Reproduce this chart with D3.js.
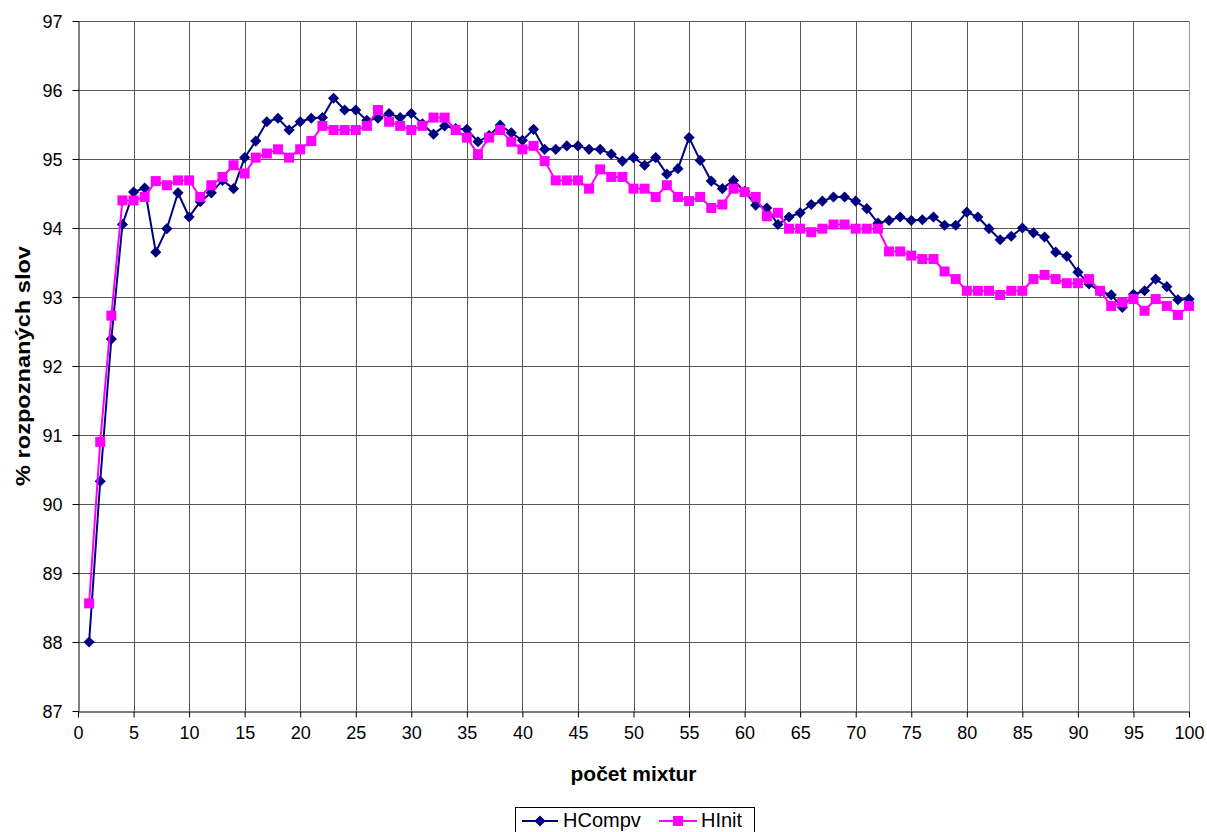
<!DOCTYPE html>
<html>
<head>
<meta charset="utf-8">
<script src="https://cdn.jsdelivr.net/npm/d3@7"></script>
<style>
  html, body { margin: 0; padding: 0; background: #fff; }
  svg { display: block; font-family: "Liberation Sans", Arial, sans-serif; }
</style>
</head>
<body>
<svg id="chart" width="1207" height="832"></svg>
<script>
// ---------- data ----------
const mixtures = d3.range(1, 101);
const hcompv = [
  88.00, 90.33, 92.39, 94.05, 94.52, 94.58, 93.65, 93.99, 94.51, 94.16,
  94.38, 94.51, 94.69, 94.57, 95.02, 95.26, 95.54, 95.59, 95.42, 95.54,
  95.59, 95.60, 95.88, 95.71, 95.71, 95.56, 95.59, 95.66, 95.60, 95.66,
  95.51, 95.36, 95.48, 95.44, 95.43, 95.25, 95.34, 95.49, 95.38, 95.27,
  95.43, 95.14, 95.14, 95.19, 95.19, 95.14, 95.14, 95.07, 94.97, 95.02,
  94.91, 95.02, 94.78, 94.86, 95.31, 94.98, 94.68, 94.57, 94.69, 94.53,
  94.33, 94.29, 94.05, 94.16, 94.22, 94.34, 94.39, 94.45, 94.45, 94.39,
  94.28, 94.07, 94.11, 94.16, 94.11, 94.12, 94.16, 94.04, 94.04, 94.23,
  94.16, 93.99, 93.83, 93.88, 94.00, 93.93, 93.87, 93.65, 93.59, 93.36,
  93.19, 93.08, 93.03, 92.85, 93.04, 93.09, 93.26, 93.15, 92.96, 92.97
];
const hinit = [
  88.56, 90.90, 92.73, 94.40, 94.40, 94.45, 94.68, 94.62, 94.69, 94.69,
  94.45, 94.62, 94.74, 94.91, 94.79, 95.02, 95.08, 95.14, 95.02, 95.14,
  95.26, 95.48, 95.42, 95.42, 95.42, 95.48, 95.71, 95.54, 95.48, 95.42,
  95.48, 95.60, 95.60, 95.42, 95.31, 95.07, 95.31, 95.42, 95.25, 95.14,
  95.19, 94.97, 94.69, 94.69, 94.69, 94.57, 94.85, 94.74, 94.74, 94.57,
  94.57, 94.45, 94.62, 94.45, 94.39, 94.45, 94.29, 94.34, 94.57, 94.52,
  94.45, 94.17, 94.22, 93.99, 93.99, 93.94, 93.99, 94.05, 94.05, 93.99,
  93.99, 93.99, 93.66, 93.66, 93.60, 93.55, 93.55, 93.37, 93.26, 93.09,
  93.09, 93.09, 93.03, 93.09, 93.09, 93.26, 93.32, 93.26, 93.20, 93.20,
  93.26, 93.09, 92.87, 92.92, 92.97, 92.80, 92.97, 92.87, 92.74, 92.87
];
const seriesNames = ["HCompv", "HInit"];
const xTicks = d3.range(0, 101, 5);
const yTicks = d3.range(87, 98, 1);
const xTitle = "počet mixtur";
const yTitle = "% rozpoznaných slov";

// ---------- layout ----------
const svg = d3.select("#chart");
const pLeft = 78, pTop = 21, pRight = 1189, pBottom = 711;

const x = d3.scaleLinear().domain([0, 100]).range([pLeft, pRight]);
const y = d3.scaleLinear().domain([87, 97]).range([pBottom, pTop]);

// gridlines
svg.append("g")
  .selectAll("line")
  .data(yTicks.filter(d => d > 87))
  .join("line")
  .attr("x1", pLeft).attr("x2", pRight)
  .attr("y1", d => Math.round(y(d)) + 0.5).attr("y2", d => Math.round(y(d)) + 0.5)
  .attr("stroke", "#555").attr("stroke-width", 1);
svg.append("g")
  .selectAll("line")
  .data(xTicks.filter(d => d > 0))
  .join("line")
  .attr("x1", d => Math.round(x(d)) + 0.5).attr("x2", d => Math.round(x(d)) + 0.5)
  .attr("y1", pTop).attr("y2", pBottom)
  .attr("stroke", d => d === 100 ? "#999" : "#555").attr("stroke-width", 1);

// axes
const xAxis = d3.axisBottom(x).tickValues(xTicks).tickSize(6).tickSizeOuter(0).tickPadding(9);
const yAxis = d3.axisLeft(y).tickValues(yTicks).tickSize(6).tickSizeOuter(0).tickPadding(10);

const gx = svg.append("g").attr("transform", `translate(0,${pBottom + 0.5})`).call(xAxis);
const gy = svg.append("g").attr("transform", `translate(${pLeft + 0.5},0)`).call(yAxis);
[gx, gy].forEach(g => {
  g.select(".domain").attr("stroke", "#000");
  g.selectAll(".tick line").attr("stroke", "#000");
  g.selectAll(".tick text").attr("fill", "#000")
    .style("font-size", "18px")
    .style("font-family", '"Liberation Sans", Arial, sans-serif');
});
gy.selectAll(".tick text").attr("dy", "0.36em");

// axis titles
svg.append("text")
  .attr("x", (pLeft + pRight) / 2).attr("y", 781)
  .attr("text-anchor", "middle")
  .style("font-size", "21px").style("font-weight", "bold")
  .text(xTitle);

svg.append("text")
  .attr("transform", `translate(30,${(pTop + pBottom) / 2}) rotate(-90)`)
  .attr("text-anchor", "middle")
  .attr("textLength", 240).attr("lengthAdjust", "spacingAndGlyphs")
  .style("font-size", "20px").style("font-weight", "bold")
  .text(yTitle);

// series
const data1 = mixtures.map((m, i) => [m, hcompv[i]]);
const data2 = mixtures.map((m, i) => [m, hinit[i]]);
const line = d3.line().x(d => x(d[0])).y(d => y(d[1]));

const navy = "#000080", magenta = "#FF00FF";
const diamond = d3.symbol().type(d3.symbolSquare).size(62);
const square = d3.symbol().type(d3.symbolSquare).size(100);

svg.append("path").datum(data1)
  .attr("d", line).attr("fill", "none").attr("stroke", navy).attr("stroke-width", 2);
svg.append("g").selectAll("path")
  .data(data1).join("path")
  .attr("d", diamond)
  .attr("transform", d => `translate(${x(d[0])},${y(d[1])}) rotate(45)`)
  .attr("fill", navy);

svg.append("path").datum(data2)
  .attr("d", line).attr("fill", "none").attr("stroke", magenta).attr("stroke-width", 2);
svg.append("g").selectAll("path")
  .data(data2).join("path")
  .attr("d", square)
  .attr("transform", d => `translate(${x(d[0])},${y(d[1])})`)
  .attr("fill", magenta);

// legend
const lg = svg.append("g");
lg.append("rect")
  .attr("x", 515.5).attr("y", 807.5).attr("width", 239).attr("height", 40)
  .attr("fill", "#fff").attr("stroke", "#000").attr("stroke-width", 1);
const legendItems = [
  { name: seriesNames[0], color: navy, sym: diamond, rot: 45, x0: 522, x1: 558, tx: 563 },
  { name: seriesNames[1], color: magenta, sym: square, rot: 0, x0: 659, x1: 697, tx: 701 }
];
const ly = 821;
legendItems.forEach(it => {
  lg.append("line").attr("x1", it.x0).attr("x2", it.x1).attr("y1", ly).attr("y2", ly)
    .attr("stroke", it.color).attr("stroke-width", 2);
  lg.append("path").attr("d", it.sym)
    .attr("transform", `translate(${(it.x0 + it.x1) / 2},${ly}) rotate(${it.rot})`)
    .attr("fill", it.color);
  lg.append("text").attr("x", it.tx).attr("y", 827)
    .style("font-size", "20px").text(it.name);
});
</script>
</body>
</html>
